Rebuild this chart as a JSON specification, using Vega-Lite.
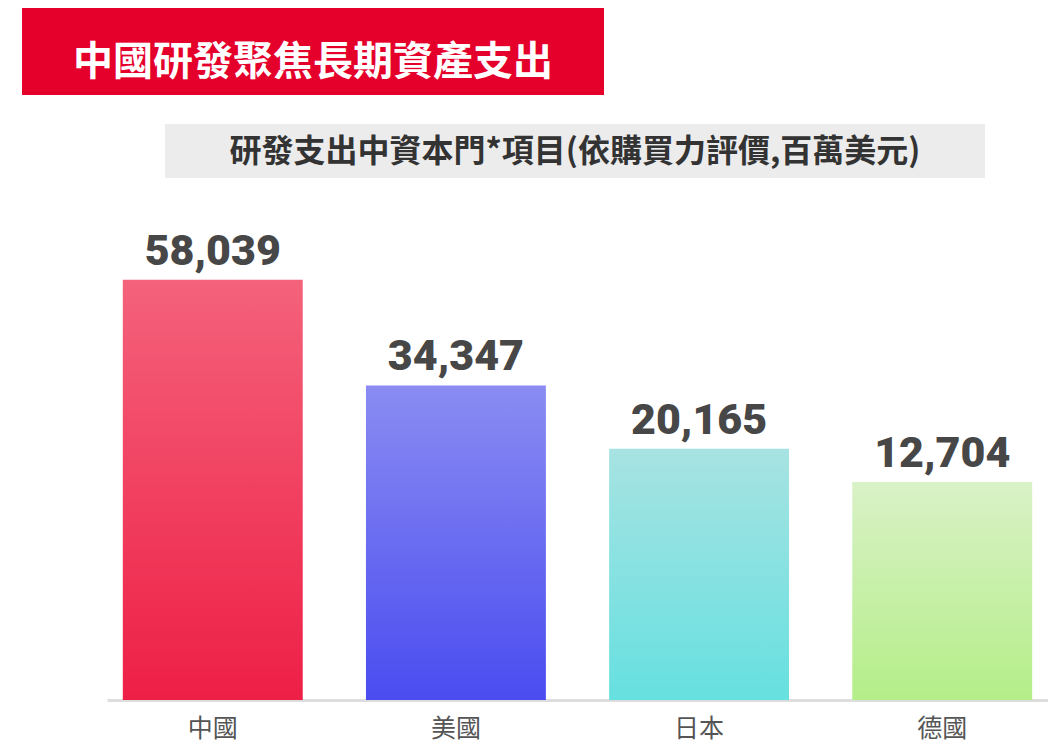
{
  "$schema": "https://vega.github.io/schema/vega-lite/v6.json",
  "background": "white",
  "padding": {"left": 22, "top": 8, "right": 0, "bottom": 5},
  "spacing": 29,
  "config": {"view": {"stroke": null}, "font": "Noto Sans CJK TC"},
  "vconcat": [
    {
      "width": 582,
      "height": 87,
      "view": {"fill": "#e4002b", "stroke": null},
      "data": {"values": [{"title": "中國研發聚焦長期資產支出"}]},
      "mark": {"type": "text", "font": "Noto Sans CJK TC", "fontSize": 40, "fontWeight": "bold", "color": "white", "baseline": "middle", "dy": 11},
      "encoding": {"text": {"field": "title"}}
    },
    {
      "spacing": 0,
      "hconcat": [
        {
          "width": 143,
          "height": 54,
          "data": {"values": []},
          "mark": {"type": "text"}
        },
        {
          "width": 820,
          "height": 54,
          "view": {"fill": "#ececec", "stroke": null},
          "data": {"values": [{"sub": "研發支出中資本門*項目(依購買力評價,百萬美元)"}]},
          "mark": {"type": "text", "font": "Noto Sans CJK TC", "fontSize": 32, "fontWeight": "bold", "color": "#333333", "baseline": "middle", "dy": 1},
          "encoding": {"text": {"field": "sub"}}
        }
      ]
    },
    {
      "spacing": 0,
      "hconcat": [
        {
          "width": 85,
          "height": 493,
          "data": {"values": []},
          "mark": {"type": "text"}
        },
        {
          "width": 941,
          "height": 493,
          "data": {"values": [
            {"country": "中國", "value": 58039},
            {"country": "美國", "value": 34347},
            {"country": "日本", "value": 20165},
            {"country": "德國", "value": 12704}
          ]},
          "encoding": {
            "x": {"field": "country", "type": "nominal", "sort": null,
              "scale": {"domain": ["中國", "美國", "日本", "德國"], "paddingInner": 0.26, "paddingOuter": 0.065},
              "axis": {"title": null, "labelAngle": 0, "ticks": false, "domainColor": "#dddddd", "domainWidth": 3, "labelFont": "Noto Sans CJK TC", "labelFontSize": 25, "labelColor": "#555555", "labelPadding": 16, "labelBaseline": "top"}},
            "y": {"field": "value", "type": "quantitative",
              "scale": {"domain": [-36200, 74350], "nice": false, "zero": false},
              "axis": null}
          },
          "layer": [
            {"transform": [{"filter": "datum.country === '中國'"}],
             "mark": {"type": "bar", "color": {"gradient": "linear", "x1": 0, "y1": 0, "x2": 0, "y2": 1, "stops": [{"offset": 0, "color": "#f4627b"}, {"offset": 1, "color": "#ee1f46"}]}},
             "encoding": {"y2": {"datum": -36200}}},
            {"transform": [{"filter": "datum.country === '美國'"}],
             "mark": {"type": "bar", "color": {"gradient": "linear", "x1": 0, "y1": 0, "x2": 0, "y2": 1, "stops": [{"offset": 0, "color": "#8a8cf2"}, {"offset": 1, "color": "#4a4cf0"}]}},
             "encoding": {"y2": {"datum": -36200}}},
            {"transform": [{"filter": "datum.country === '日本'"}],
             "mark": {"type": "bar", "color": {"gradient": "linear", "x1": 0, "y1": 0, "x2": 0, "y2": 1, "stops": [{"offset": 0, "color": "#a7e3e2"}, {"offset": 1, "color": "#66e0e0"}]}},
             "encoding": {"y2": {"datum": -36200}}},
            {"transform": [{"filter": "datum.country === '德國'"}],
             "mark": {"type": "bar", "color": {"gradient": "linear", "x1": 0, "y1": 0, "x2": 0, "y2": 1, "stops": [{"offset": 0, "color": "#d9f1c7"}, {"offset": 1, "color": "#b4ee88"}]}},
             "encoding": {"y2": {"datum": -36200}}},
            {"mark": {"type": "text", "font": "Roboto", "fontSize": 43, "fontWeight": 900, "color": "#474747", "baseline": "alphabetic", "dy": -15},
             "encoding": {"text": {"field": "value", "type": "quantitative", "format": ",d"}}}
          ]
        }
      ]
    }
  ]
}
